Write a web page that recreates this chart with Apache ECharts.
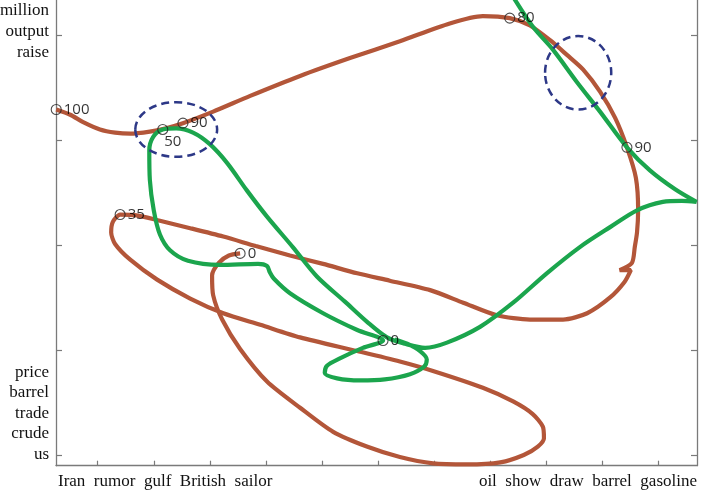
<!DOCTYPE html>
<html><head><meta charset="utf-8">
<script src="https://cdn.jsdelivr.net/npm/echarts@6/dist/echarts.min.js"></script>
<style>html,body{margin:0;padding:0;background:#fff}#c{width:703px;height:495px}</style>
</head><body><div id="c"></div>
<script>
const xTicks = [1,2,3,4,5,6,7,8,9,10,11];
const yTicks = [0,1,2,3,4];
const xWordsLeft = ['Iran','rumor','gulf','British','sailor'];
const xWordsRight = ['oil','show','draw','barrel','gasoline'];
const yWordsTop = ['million','output','raise'];
const yWordsBottom = ['price','barrel','trade','crude','us'];

const brownPath = [
[0.26,3.29],[0.51,3.24],[0.74,3.17],[1.04,3.10],[1.31,3.07],[1.58,3.06],[1.93,3.08],[2.20,3.11],[2.52,3.16],
[3.06,3.27],[3.72,3.42],[4.61,3.61],[5.50,3.78],[6.39,3.94],[7.28,4.11],[7.87,4.18],[8.35,4.16],
[8.71,4.09],[9.07,3.95],[9.37,3.81],[9.66,3.67],[9.96,3.46],[10.23,3.21],[10.44,2.93],
[10.60,2.64],[10.64,2.33],[10.62,2.12],[10.58,1.98],[10.53,1.83],[10.31,1.76],[10.51,1.76],[10.40,1.65],
[10.14,1.50],[9.73,1.35],[9.30,1.29],[8.71,1.29],[8.12,1.33],[7.52,1.45],[6.93,1.57],[6.21,1.66],[5.63,1.73],
[5.02,1.82],[4.43,1.90],[3.82,1.99],[3.24,2.08],[2.65,2.16],[2.11,2.23],[1.72,2.28],[1.40,2.29],
[1.27,2.22],[1.24,2.12],[1.31,2.01],[1.58,1.86],[2.06,1.67],[2.65,1.49],[3.24,1.35],[3.90,1.24],[4.61,1.12],
[5.63,0.99],[6.39,0.89],[6.98,0.80],[7.87,0.64],[8.41,0.51],[8.76,0.39],[8.94,0.27],[8.96,0.16],[8.85,0.08],
[8.60,0.00],[8.18,-0.07],[7.59,-0.09],[6.98,-0.08],[6.39,-0.02],[5.80,0.08],[5.20,0.22],[4.61,0.45],[4.02,0.70],
[3.54,1.01],[3.22,1.29],[3.06,1.52],[3.04,1.71],[3.16,1.83],[3.34,1.90],[3.54,1.92]
];

const greenPath = [
[8.39,4.38],[8.76,4.08],[9.12,3.86],[9.55,3.55],[9.96,3.27],[10.44,2.93],[10.85,2.71],[11.30,2.53],[11.68,2.41],
[11.42,2.42],[11.08,2.41],[10.62,2.33],[10.14,2.17],[9.60,1.98],[9.01,1.73],[8.41,1.45],[7.82,1.22],[7.23,1.07],
[6.84,1.02],[6.48,1.06],[6.16,1.12],[5.80,1.27],[5.41,1.46],[4.91,1.70],[4.48,1.98],[4.02,2.27],[3.66,2.52],
[3.31,2.78],[3.00,2.96],[2.70,3.07],[2.40,3.11],[2.16,3.10],
[1.99,3.03],[1.92,2.90],[1.93,2.62],[2.00,2.33],[2.11,2.10],[2.29,1.95],[2.61,1.85],[3.18,1.81],[3.86,1.82],
[4.02,1.80],[4.07,1.74],[4.14,1.68],[4.43,1.54],[5.02,1.35],[5.63,1.19],[6.09,1.09],
[5.73,1.02],[5.32,0.92],[5.09,0.85],[5.05,0.78],[5.27,0.73],[5.68,0.71],[6.12,0.72],[6.57,0.77],[6.82,0.84],
[6.87,0.91],[6.75,0.99],[6.52,1.06],[6.30,1.10]
];

const brownMarks = [[0.26,3.29,'100'],[2.52,3.16,'90'],[8.35,4.16,'80'],[10.44,2.93,'90'],[1.40,2.29,'35'],[3.54,1.92,'0']];
const greenMarks = [[2.16,3.10,'50'],[6.09,1.09,'0']];
// [centerX, centerY, radiusX, radiusY] in data units
const highlightEllipses = [[2.40,3.10,0.73,0.26],[9.57,3.64,0.59,0.35]];

const AXIS = '#7a7a7a';
const SERIF = '"Liberation Serif", "Times New Roman", serif';

function markData(arr){
  return arr.map(function(m){
    const item = {value:[m[0],m[1]], name:m[2]};
    if (m[2] === '50') {
      item.label = {position:[7,18], align:'left', verticalAlign:'middle'};
    }
    return item;
  });
}

const chart = echarts.init(document.getElementById('c'), null, {renderer:'canvas'});
const axisCommon = {
  type:'value',
  axisLine:{show:true, onZero:false, lineStyle:{color:AXIS, width:1.3}},
  axisLabel:{show:false},
  splitLine:{show:false}
};
chart.setOption({
  animation:false,
  backgroundColor:'#ffffff',
  grid:{left:56, right:6, top:0, bottom:29.3, containLabel:false},
  xAxis:Object.assign({}, axisCommon, {
    min:0.256, max:11.69,
    axisTick:{show:true, inside:true, length:5, customValues:xTicks, lineStyle:{color:AXIS, width:1.2}}
  }),
  yAxis:[
    Object.assign({}, axisCommon, {position:'left', min:-0.102, max:4.333,
      axisTick:{show:true, inside:true, length:6, customValues:yTicks, lineStyle:{color:AXIS, width:1.2}}}),
    Object.assign({}, axisCommon, {position:'right', min:-0.102, max:4.333,
      axisTick:{show:true, inside:true, length:6, customValues:yTicks, lineStyle:{color:AXIS, width:1.2}}})
  ],
  series:[
    {type:'line', data:brownPath, smooth:0.25, symbol:'none', clip:true,
     lineStyle:{color:'#B35639', width:4.2}, z:2},
    {type:'line', data:greenPath, smooth:0.3, symbol:'none', clip:true,
     lineStyle:{color:'#1BA54D', width:4.2}, z:3},
    {type:'custom', data:highlightEllipses, z:4, clip:false,
     renderItem:function(params, api){
       const c = api.coord([api.value(0), api.value(1)]);
       const s = api.size([api.value(2), api.value(3)]);
       return {type:'ellipse', shape:{cx:c[0], cy:c[1], rx:s[0], ry:s[1]},
         style:{fill:null, stroke:'#2D3887', lineWidth:2.5, lineDash:[8,5]}};
     }},
    {type:'scatter', data:markData(brownMarks.concat(greenMarks)), z:5,
     symbol:'circle', symbolSize:10,
     itemStyle:{color:'rgba(0,0,0,0)', borderColor:'#222', borderWidth:1.1},
     label:{show:true, position:'right', distance:2, formatter:function(p){return p.name;},
       color:'#000', fontSize:15, fontFamily:'"Open Sans", sans-serif'}}
  ],
  graphic:[
    {type:'text', x:58, y:481.5, style:{text:xWordsLeft.join('  '), font:'17px '+SERIF, fill:'#111', align:'left', verticalAlign:'middle'}},
    {type:'text', x:697, y:481.5, style:{text:xWordsRight.join('  '), font:'17px '+SERIF, fill:'#111', align:'right', verticalAlign:'middle'}},
    {type:'text', x:49, y:0.5, style:{text:yWordsTop.join('\n'), font:'17px '+SERIF, lineHeight:21, fill:'#111', align:'right', verticalAlign:'top'}},
    {type:'text', x:49, y:464.5, style:{text:yWordsBottom.join('\n'), font:'17px '+SERIF, lineHeight:20.5, fill:'#111', align:'right', verticalAlign:'bottom'}}
  ]
});
</script></body></html>
